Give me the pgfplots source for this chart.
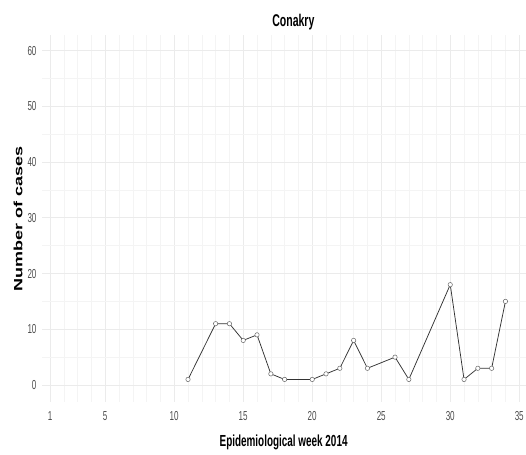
\documentclass[border=0pt]{standalone}
\usepackage{fontspec}
\setmainfont{Liberation Sans}[FakeStretch=0.62]
\newfontfamily\ylabfont{Liberation Sans}[FakeStretch=1.5]
\usepackage{pgfplots}
\pgfplotsset{compat=1.18}
\definecolor{gridc}{RGB}{235,235,235}
\definecolor{gridm}{RGB}{244,244,244}
\definecolor{tickc}{RGB}{77,77,77}
\begin{document}
\begin{tikzpicture}[x=1pt,y=1pt]
\begin{axis}[
  at={(0pt,0pt)}, anchor=south west,
  scale only axis=true,
  width=500.7pt, height=367pt,
  xmin=0.42, xmax=36.7,
  ymin=-3.05, ymax=62.8,
  axis line style={draw=none},
  xtick={1,5,10,15,20,25,30,35},
  minor xtick={2,3,4,6,7,8,9,11,12,13,14,16,17,18,19,21,22,23,24,26,27,28,29,31,32,33,34,36},
  ytick={0,10,20,30,40,50,60},
  minor ytick={5,15,25,35,45,55},
  major tick length=0pt, minor tick length=0pt,
  grid=both,
  major grid style={draw=gridc, line width=0.6pt},
  minor grid style={draw=gridm, line width=0.5pt},
  /pgf/number format/assume math mode=true,
  tick label style={font=\fontsize{13}{13}\selectfont, text=tickc},
  xticklabel style={yshift=-6pt},
  yticklabel style={xshift=-2pt},
  title={\bfseries Conakry},
  title style={font=\fontsize{17}{17}\selectfont, at={(0.5,1)}, anchor=base, yshift=2pt, xshift=1pt},
  xlabel={\bfseries Epidemiological week 2014},
  xlabel style={font=\fontsize{16}{16}\selectfont, at={(0.4825,0)}, anchor=center, yshift=-40pt},
  ylabel={\ylabfont\bfseries Number of cases},
  ylabel style={font=\fontsize{12}{12}\selectfont, at={(0,0.50)}, anchor=center, yshift=24pt},
  clip=false,
]
\addplot[color=black!80, line width=0.75pt, mark=*, mark size=2.2pt,
  mark options={fill=white, draw=black!60, line width=0.5pt}] coordinates {
  (11,1) (13,11) (14,11) (15,8) (16,9) (17,2) (18,1) (20,1) (21,2) (22,3)
  (23,8) (24,3) (26,5) (27,1) (30,18) (31,1) (32,3) (33,3) (34,15)
};
\end{axis}
\pgfresetboundingbox
\useasboundingbox (-42pt,-52pt) rectangle (484pt,402pt);
\end{tikzpicture}
\end{document}
